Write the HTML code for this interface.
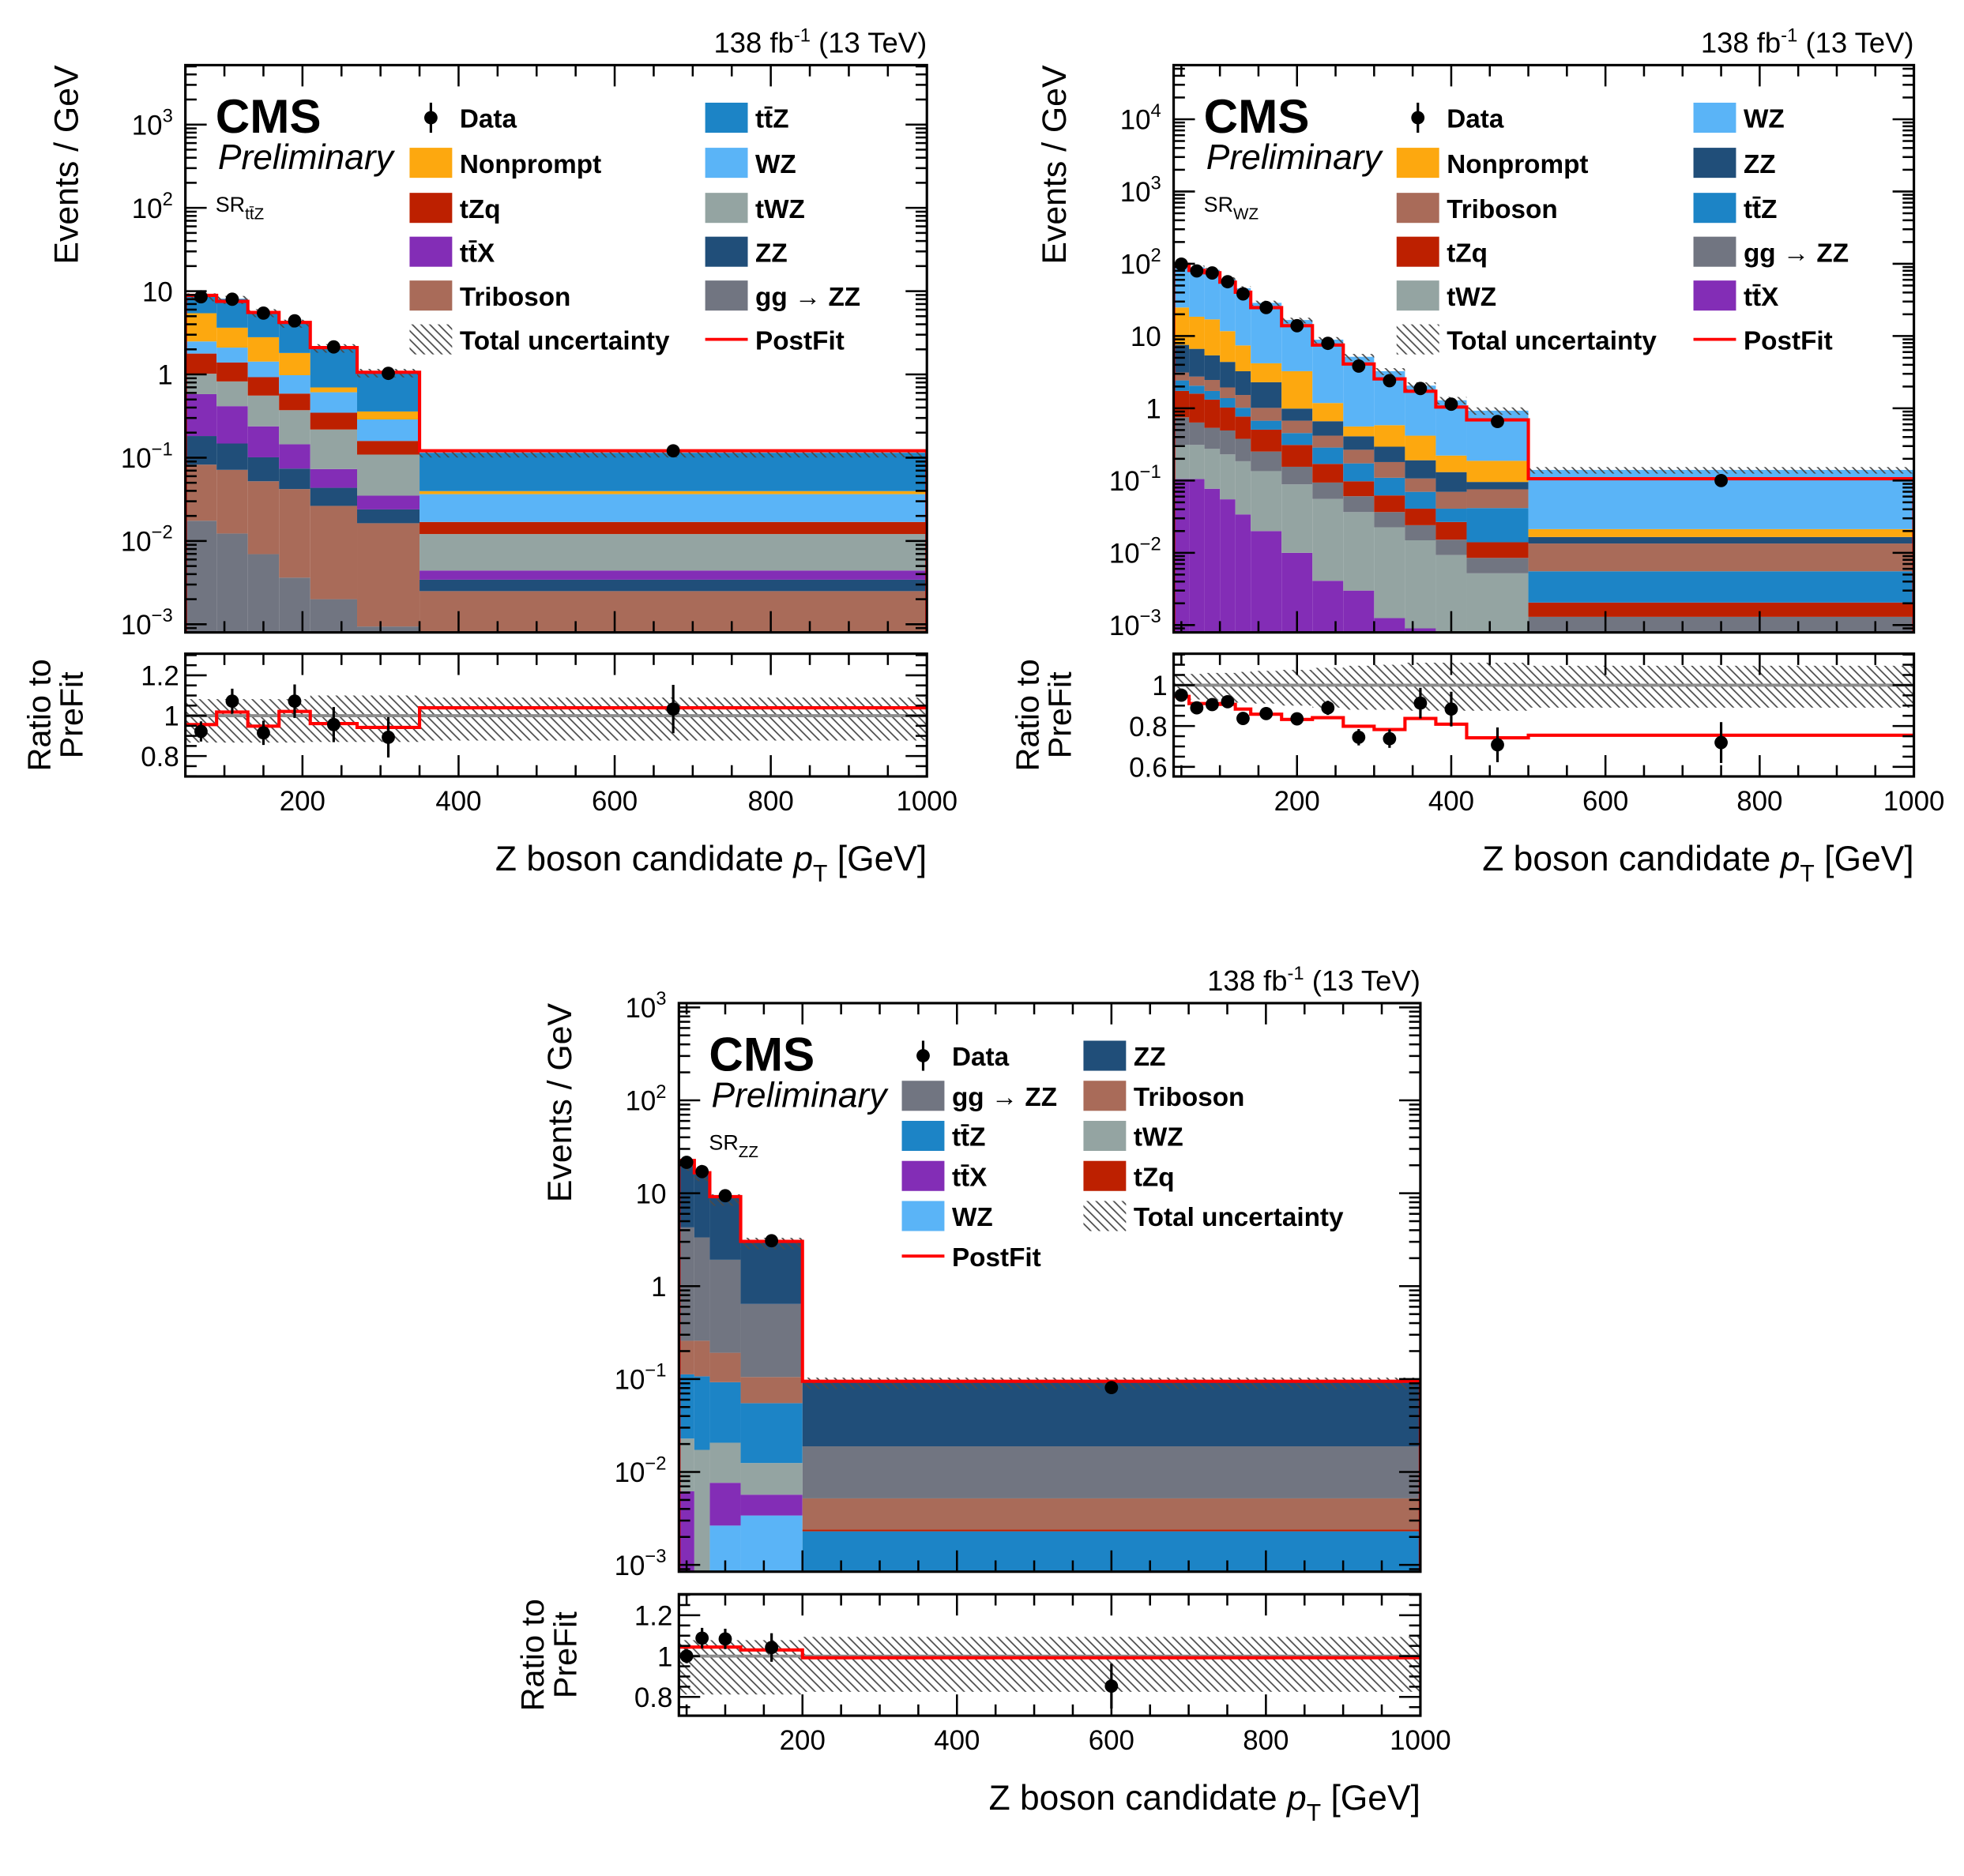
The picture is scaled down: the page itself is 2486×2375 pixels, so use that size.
<!DOCTYPE html>
<html><head><meta charset="utf-8"><style>
html,body{margin:0;padding:0;background:#fff;}
svg{display:block;font-family:"Liberation Sans",Arial,sans-serif;}
</style></head><body>
<svg id="fig" xmlns="http://www.w3.org/2000/svg" width="2486" height="2375" viewBox="0 0 1568 1498">
<defs>
<pattern id="hatch" patternUnits="userSpaceOnUse" width="7" height="7">
<path d="M-1,-1 L8,8 M-1,6 L1,8 M6,-1 L8,1" stroke="#4a4a4a" stroke-width="1.1"/>
</pattern>
</defs>
</svg>
<script>
// ---------- colours ----------
const C_TTZ='#1c84c6', C_WZ='#5ab4f7', C_NP='#fda80f', C_TZQ='#bd2000', C_TTX='#832db6',
      C_TRI='#a96b59', C_TWZ='#94a4a2', C_ZZ='#204e79', C_GG='#717581';

// ---------- Panel 1 : SR ttZ ----------
const p1Edges=[50,90,130,170,210,270,350,1000];
const p1GG=[0.0175,0.0123,0.00695,0.00363,0.0020,0.00094,0.0005];
const p1Tri=[0.0651,0.0592,0.0452,0.0384,0.0244,0.0154,0.0020];
const p1ZZ=[0.0994,0.0765,0.0489,0.0320,0.0171,0.0076,0.00093];
const p1TTX=[0.398,0.268,0.137,0.071,0.0295,0.0111,0.00099];
const p1TWZ=[0.44,0.408,0.319,0.227,0.145,0.074,0.0077];
const p1TZQ=[0.76,0.566,0.37,0.217,0.129,0.050,0.0048];
const p1WZ=[0.71,0.71,0.50,0.39,0.264,0.129,0.0196];
const p1NP=[2.94,1.54,1.37,0.83,0.087,0.071,0.0032];
const p1TTZ=[3.27,4.45,2.82,2.39,1.40,0.70,0.075];
const p1Data=[8.55,8.0,5.45,4.4,2.14,1.03,0.121];
const p1Post=[8.9,7.53,5.55,4.21,2.10,1.06,0.121];
const p1DataRatio=[0.922,1.072,0.915,1.072,0.956,0.893,1.033];
const p1DataRatioErr=[0.05,0.062,0.06,0.083,0.087,0.10,0.12];
const p1PostRatio=[0.956,1.018,0.948,1.021,0.961,0.942,1.039];
const p1UncUp=[0.082,0.082,0.082,0.082,0.10,0.10,0.09];
const p1UncDn=[0.133,0.133,0.133,0.133,0.13,0.13,0.123];
const p1YTicks=[-3,-2,-1,0,1,2,3];
const p1RTicks=[0.8,1,1.2];

// ---------- Panel 2 : SR WZ ----------
const p2Edges=[40,60,80,100,120,140,180,220,260,300,340,380,420,500,1000];
const p2TTX=[0.105,0.105,0.077,0.055,0.034,0.020,0.010,0.0041,0.0030,0.00125,0.0009,0.0003,0.0002,0.0001];
const p2TWZ=[0.206,0.206,0.197,0.175,0.151,0.115,0.0785,0.0516,0.0336,0.0213,0.0140,0.0090,0.0050,0.0003];
const p2GG=[0.44,0.324,0.263,0.263,0.193,0.117,0.0665,0.0381,0.0241,0.0141,0.0092,0.0059,0.0033,0.0009];
const p2TZQ=[0.99,0.96,0.78,0.53,0.39,0.254,0.156,0.0762,0.037,0.0256,0.0167,0.0115,0.0055,0.00075];
const p2TTZ=[0.69,0.46,0.42,0.36,0.25,0.167,0.143,0.116,0.075,0.047,0.029,0.0141,0.0276,0.0035];
const p2Tri=[0.70,0.69,0.73,0.56,0.51,0.34,0.219,0.132,0.094,0.071,0.037,0.029,0.034,0.0079];
const p2ZZ=[4.41,3.9,2.93,2.44,1.73,1.28,0.318,0.244,0.143,0.114,0.084,0.061,0.020,0.0031];
const p2NP=[17.3,11.85,11.6,7.3,4.15,1.9,2.27,0.52,0.150,0.289,0.227,0.091,0.092,0.0047];
const p2WZ=[79,71,65.4,49.7,38.4,24.6,13.4,7.73,4.6,2.68,1.64,1.07,0.74,0.119];
const p2Data=[98.9,79.6,74.6,56.4,38.3,24.8,13.9,7.92,3.84,2.41,1.88,1.14,0.656,0.10];
const p2Post=[98,81,75,55.6,40.4,24.7,13.9,7.5,4.1,2.55,1.72,1.04,0.69,0.106];
const p2DataRatio=[0.951,0.889,0.905,0.919,0.837,0.861,0.835,0.889,0.745,0.738,0.912,0.883,0.708,0.719];
const p2DataRatioErr=[0.02,0.02,0.02,0.02,0.025,0.025,0.03,0.035,0.04,0.045,0.075,0.085,0.085,0.1];
const p2PostRatio=[0.945,0.91,0.91,0.906,0.883,0.858,0.832,0.841,0.799,0.783,0.837,0.809,0.742,0.755];
const p2UncUp=[0.055,0.055,0.06,0.06,0.065,0.07,0.075,0.085,0.095,0.10,0.11,0.11,0.11,0.095];
const p2UncDn=[0.07,0.07,0.075,0.08,0.085,0.09,0.10,0.11,0.12,0.12,0.125,0.125,0.125,0.11];
const p2YTicks=[-3,-2,-1,0,1,2,3,4];
const p2RTicks=[0.6,0.8,1];

// ---------- Panel 3 : SR ZZ ----------
const p3Edges=[40,60,80,120,200,1000];
const p3WZ=[0.0001,0.0001,0.00265,0.0034,0.0001];
const p3TTX=[0.0061,0.0001,0.0050,0.0023,0.0001];
const p3TWZ=[0.0167,0.0171,0.013,0.0068,0.0001];
const p3TTZ=[0.0897,0.0897,0.0719,0.0425,0.0020];
const p3TZQ=[0.0005,0.0005,0.0003,0.0002,0.0001];
const p3Tri=[0.145,0.151,0.099,0.050,0.0028];
const p3GG=[4.03,3.09,1.73,0.538,0.0137];
const p3ZZ=[17.2,13.25,7.1,2.43,0.0758];
const p3Data=[21.5,17.1,9.4,3.08,0.081];
const p3Post=[22.5,16.6,9.2,3.03,0.0946];
const p3DataRatio=[1.0,1.088,1.084,1.042,0.853];
const p3DataRatioErr=[0.035,0.05,0.05,0.07,0.11];
const p3PostRatio=[1.044,1.044,1.044,1.03,0.992];
const p3UncUp=[0.078,0.078,0.078,0.078,0.094];
const p3UncDn=[0.188,0.188,0.188,0.188,0.175];
const p3YTicks=[-3,-2,-1,0,1,2,3];
const p3RTicks=[0.8,1,1.2];

const xTicks=[200,400,600,800,1000];

const NS='http://www.w3.org/2000/svg';
const svg=document.getElementById('fig');
function mk(tag,attrs,parent){const e=document.createElementNS(NS,tag);for(const k in attrs)e.setAttribute(k,attrs[k]);(parent||svg).appendChild(e);return e;}
function slug(s){return s.toLowerCase().replace(/[^a-z0-9]+/g,'-').replace(/^-|-$/g,'');}

function drawPanel(P){
  const g=mk('g',{});
  
  
  const xs=v=>P.x0+(v-P.xmin)/(P.xmax-P.xmin)*(P.x1-P.x0);
  const ys=v=>P.y1-(Math.log10(Math.max(v,1e-12))-P.lmin)/(P.lmax-P.lmin)*(P.y1-P.y0);
  const rs=v=>P.ry1-(v-P.rmin)/(P.rmax-P.rmin)*(P.ry1-P.ry0);
  const nb=P.edges.length-1;
  const cid='clip-'+P.id, rcid='rclip-'+P.id;
  const cp=mk('clipPath',{id:cid},g); mk('rect',{x:P.x0,y:P.y0,width:P.x1-P.x0,height:P.y1-P.y0},cp);
  const rcp=mk('clipPath',{id:rcid},g); mk('rect',{x:P.x0,y:P.ry0,width:P.x1-P.x0,height:P.ry1-P.ry0},rcp);
  const main=mk('g',{'clip-path':'url(#'+cid+')'},g);
  // stack
  const cum=new Array(nb).fill(0);
  P.procs.forEach(pr=>{
    for(let i=0;i<nb;i++){
      const lo=cum[i], hi=cum[i]+pr.vals[i];
      const yTop=ys(hi), yBot=lo>0?ys(lo):P.y1+5;
      const r=mk('rect',{x:xs(P.edges[i]),y:yTop,width:xs(P.edges[i+1])-xs(P.edges[i]),height:Math.max(0,yBot-yTop),fill:pr.color},main);
      
      
      cum[i]=hi;
    }
  });
  // hatch band main
  for(let i=0;i<nb;i++){
    const t=ys(cum[i]*(1+P.up[i])), b=ys(cum[i]*(1-P.dn[i]));
    const h=mk('rect',{x:xs(P.edges[i]),y:t,width:xs(P.edges[i+1])-xs(P.edges[i]),height:b-t,fill:'url(#hatch)'},main);
    
    
  }
  // postfit line main
  let d='';
  for(let i=0;i<nb;i++){
    const y=ys(P.post[i]);
    d+=(i===0?'M'+xs(P.edges[0])+','+(P.y1+5)+' L':' L')+xs(P.edges[i])+','+y+' L'+xs(P.edges[i+1])+','+y;
  }
  d+=' L'+xs(P.edges[nb])+','+(P.y1+5);
  const pl=mk('path',{d:d,fill:'none',stroke:'#ff0000','stroke-width':2.6},main);
  
  
  // data main
  for(let i=0;i<nb;i++){
    const cx=xs((P.edges[i]+P.edges[i+1])/2), cy=ys(P.data[i]);
    const e=P.data[i]*P.dErr[i];
    const el=mk('line',{x1:cx,x2:cx,y1:ys(P.data[i]+e),y2:ys(Math.max(P.data[i]-e,1e-9)),stroke:'#000','stroke-width':2},main);
    
    
    const c=mk('circle',{cx:cx,cy:cy,r:5.3,fill:'#000'},main);
    
    
  }
  // ratio panel
  const rg=mk('g',{'clip-path':'url(#'+rcid+')'},g);
  for(let i=0;i<nb;i++){
    const h=mk('rect',{x:xs(P.edges[i]),y:rs(1+P.up[i]),width:xs(P.edges[i+1])-xs(P.edges[i]),height:rs(1-P.dn[i])-rs(1+P.up[i]),fill:'url(#hatch)'},rg);
    
    
  }
  const one=mk('line',{x1:P.x0,x2:P.x1,y1:rs(1),y2:rs(1),stroke:'#8c8c8c','stroke-width':2.4},rg);
  
  
  let rd='';
  for(let i=0;i<nb;i++){
    const y=rs(P.pRatio[i]);
    rd+=(i===0?'M':' L')+xs(P.edges[i])+','+y+' L'+xs(P.edges[i+1])+','+y;
  }
  const rl=mk('path',{d:rd,fill:'none',stroke:'#ff0000','stroke-width':2.6},rg);
  
  
  for(let i=0;i<nb;i++){
    const cx=xs((P.edges[i]+P.edges[i+1])/2);
    const el=mk('line',{x1:cx,x2:cx,y1:rs(P.dRatio[i]+P.dErr[i]),y2:rs(P.dRatio[i]-P.dErr[i]),stroke:'#000','stroke-width':2},rg);
    
    
    const c=mk('circle',{cx:cx,cy:rs(P.dRatio[i]),r:5.3,fill:'#000'},rg);
    
    
  }
  // frames
  [[P.y0,P.y1,'main-frame'],[P.ry0,P.ry1,'ratio-frame']].forEach(f=>{
    const r=mk('rect',{x:P.x0,y:f[0],width:P.x1-P.x0,height:f[1]-f[0],fill:'none',stroke:'#000','stroke-width':2},g);
    
    
  });
  // ticks
  const tk=mk('g',{stroke:'#000','stroke-width':1.6},g);
  
  
  for(let v=Math.ceil(P.xmin/50)*50; v<=P.xmax; v+=50){
    const x=xs(v), L=(v%200===0)?17:9;
    [[P.y1,-1],[P.y0,1],[P.ry1,-1],[P.ry0,1]].forEach(s=>mk('line',{x1:x,x2:x,y1:s[0],y2:s[0]+s[1]*L},tk));
  }
  for(let e=Math.floor(P.lmin); e<=Math.ceil(P.lmax); e++){
    for(let m=1;m<10;m++){
      const lv=e+Math.log10(m); if(lv<P.lmin||lv>P.lmax) continue;
      const y=ys(Math.pow(10,lv)), L=m===1?17:9;
      mk('line',{x1:P.x0,x2:P.x0+L,y1:y,y2:y},tk); mk('line',{x1:P.x1,x2:P.x1-L,y1:y,y2:y},tk);
    }
  }
  for(let k=Math.ceil(P.rmin/0.05-1e-6); k*0.05<=P.rmax+1e-9; k++){
    const v=k*0.05, y=rs(v), L=(Math.abs(v*5-Math.round(v*5))<1e-6)?17:9;
    mk('line',{x1:P.x0,x2:P.x0+L,y1:y,y2:y},tk); mk('line',{x1:P.x1,x2:P.x1-L,y1:y,y2:y},tk);
  }
  // tick labels
  xTicks.forEach(v=>{
    const t=mk('text',{x:xs(v),y:P.ry1+27,'font-size':22,'text-anchor':'middle'},g); t.textContent=v;
    
    
  });
  P.yTicks.forEach(e=>{
    const t=mk('text',{x:P.x0-10,y:ys(Math.pow(10,e))+8,'font-size':22,'text-anchor':'end'},g);
    
    
    if(e===0) t.textContent='1'; else if(e===1) t.textContent='10';
    else { t.textContent='10'; const s=mk('tspan',{dy:-10,'font-size':15},t); s.textContent=String(e).replace('-','\u2212'); }
  });
  P.rTicks.forEach(v=>{
    const t=mk('text',{x:P.x0-5,y:rs(v)+8,'font-size':22,'text-anchor':'end'},g);
    t.textContent=(v===1?'1':String(v));
    
    
  });
  // axis titles
  const yt=mk('text',{x:P.x0-86,y:P.y0,'font-size':27,'text-anchor':'end',transform:'rotate(-90 '+(P.x0-86)+' '+P.y0+')'},g);
  yt.textContent='Events / GeV';
  
  
  const rm=(P.ry0+P.ry1)/2;
  const r1=mk('text',{x:P.x0-108,y:rm,'font-size':26,'text-anchor':'middle',transform:'rotate(-90 '+(P.x0-108)+' '+rm+')'},g);
  r1.textContent='Ratio to';
  
  
  const r2=mk('text',{x:P.x0-82,y:rm,'font-size':26,'text-anchor':'middle',transform:'rotate(-90 '+(P.x0-82)+' '+rm+')'},g);
  r2.textContent='PreFit';
  
  
  const xt=mk('text',{x:P.x1,y:P.ry1+75,'font-size':28,'text-anchor':'end'},g);
  
  
  xt.appendChild(document.createTextNode('Z boson candidate '));
  const pt=mk('tspan',{'font-style':'italic'},xt); pt.textContent='p';
  const ts=mk('tspan',{dy:9,'font-size':19},xt); ts.textContent='T';
  const gv=mk('tspan',{dy:-9},xt); gv.textContent=' [GeV]';
  // lumi
  const lu=mk('text',{x:P.x1,y:P.y0-10,'font-size':23,'text-anchor':'end'},g);
  
  
  lu.appendChild(document.createTextNode('138 fb'));
  const l1=mk('tspan',{dy:-9,'font-size':15},lu); l1.textContent='-1';
  const l2=mk('tspan',{dy:9},lu); l2.textContent=' (13 TeV)';
  // CMS labels
  const cms=mk('text',{x:P.x0+24,y:P.y0+54,'font-size':38,'font-weight':'bold'},g); cms.textContent='CMS';
  
  
  const pre=mk('text',{x:P.x0+26,y:P.y0+83,'font-size':28,'font-style':'italic'},g); pre.textContent='Preliminary';
  
  
  const sr=mk('text',{x:P.x0+24,y:P.y0+117,'font-size':17},g);
  
  
  sr.appendChild(document.createTextNode('SR'));
  const ss=mk('tspan',{dy:6,'font-size':13},sr); ss.textContent=P.sr;
  // legend
  P.legend.forEach(L=>{
    const lg=mk('g',{},g);
    
    
    const bx=L.x, cy=L.y;
    if(L.kind==='box') mk('rect',{x:bx,y:cy-12,width:34,height:24,fill:L.color},lg);
    else if(L.kind==='hatch') mk('rect',{x:bx,y:cy-12,width:34,height:24,fill:'url(#hatch)'},lg);
    else if(L.kind==='line') mk('line',{x1:bx,x2:bx+34,y1:cy,y2:cy,stroke:'#ff0000','stroke-width':2.4},lg);
    else { mk('line',{x1:bx+17,x2:bx+17,y1:cy-12,y2:cy+12,stroke:'#000','stroke-width':2},lg); mk('circle',{cx:bx+17,cy:cy,r:5.3,fill:'#000'},lg); }
    const t=mk('text',{x:bx+40,y:cy+8,'font-size':21,'font-weight':'bold'},lg); t.textContent=L.label;
  });
}

const TT='tt\u0304';
drawPanel({id:'sr-ttz-plot',x0:148,x1:740,y0:52,y1:505,ry0:522,ry1:620,xmin:50,xmax:1000,
  lmin:-3.098,lmax:3.714,rmin:0.699,rmax:1.307,sr:'t'+'t\u0304Z',edges:p1Edges,
  procs:[{name:'gg to ZZ',color:C_GG,vals:p1GG},{name:'Triboson',color:C_TRI,vals:p1Tri},{name:'ZZ',color:C_ZZ,vals:p1ZZ},
    {name:'ttX',color:C_TTX,vals:p1TTX},{name:'tWZ',color:C_TWZ,vals:p1TWZ},{name:'tZq',color:C_TZQ,vals:p1TZQ},
    {name:'WZ',color:C_WZ,vals:p1WZ},{name:'Nonprompt',color:C_NP,vals:p1NP},{name:'ttZ',color:C_TTZ,vals:p1TTZ}],
  data:p1Data,post:p1Post,dRatio:p1DataRatio,dErr:p1DataRatioErr,pRatio:p1PostRatio,up:p1UncUp,dn:p1UncDn,
  yTicks:p1YTicks,rTicks:p1RTicks,
  legend:[{x:327,y:94,kind:'data',label:'Data'},{x:327,y:130,kind:'box',color:C_NP,label:'Nonprompt'},
    {x:327,y:166,kind:'box',color:C_TZQ,label:'tZq'},{x:327,y:201,kind:'box',color:C_TTX,label:TT+'X'},
    {x:327,y:236,kind:'box',color:C_TRI,label:'Triboson'},{x:327,y:271,kind:'hatch',label:'Total uncertainty'},
    {x:563,y:94,kind:'box',color:C_TTZ,label:TT+'Z'},{x:563,y:130,kind:'box',color:C_WZ,label:'WZ'},
    {x:563,y:166,kind:'box',color:C_TWZ,label:'tWZ'},{x:563,y:201,kind:'box',color:C_ZZ,label:'ZZ'},
    {x:563,y:236,kind:'box',color:C_GG,label:'gg \u2192 ZZ'},{x:563,y:271,kind:'line',label:'PostFit'}]});

drawPanel({id:'sr-wz-plot',x0:937,x1:1528,y0:52,y1:505,ry0:522,ry1:620,xmin:40,xmax:1000,
  lmin:-3.102,lmax:4.749,rmin:0.553,rmax:1.154,sr:'WZ',edges:p2Edges,
  procs:[{name:'ttX',color:C_TTX,vals:p2TTX},{name:'tWZ',color:C_TWZ,vals:p2TWZ},{name:'gg to ZZ',color:C_GG,vals:p2GG},
    {name:'tZq',color:C_TZQ,vals:p2TZQ},{name:'ttZ',color:C_TTZ,vals:p2TTZ},{name:'Triboson',color:C_TRI,vals:p2Tri},
    {name:'ZZ',color:C_ZZ,vals:p2ZZ},{name:'Nonprompt',color:C_NP,vals:p2NP},{name:'WZ',color:C_WZ,vals:p2WZ}],
  data:p2Data,post:p2Post,dRatio:p2DataRatio,dErr:p2DataRatioErr,pRatio:p2PostRatio,up:p2UncUp,dn:p2UncDn,
  yTicks:p2YTicks,rTicks:p2RTicks,
  legend:[{x:1115,y:94,kind:'data',label:'Data'},{x:1115,y:130,kind:'box',color:C_NP,label:'Nonprompt'},
    {x:1115,y:166,kind:'box',color:C_TRI,label:'Triboson'},{x:1115,y:201,kind:'box',color:C_TZQ,label:'tZq'},
    {x:1115,y:236,kind:'box',color:C_TWZ,label:'tWZ'},{x:1115,y:271,kind:'hatch',label:'Total uncertainty'},
    {x:1352,y:94,kind:'box',color:C_WZ,label:'WZ'},{x:1352,y:130,kind:'box',color:C_ZZ,label:'ZZ'},
    {x:1352,y:166,kind:'box',color:C_TTZ,label:TT+'Z'},{x:1352,y:201,kind:'box',color:C_GG,label:'gg \u2192 ZZ'},
    {x:1352,y:236,kind:'box',color:C_TTX,label:TT+'X'},{x:1352,y:271,kind:'line',label:'PostFit'}]});

drawPanel({id:'sr-zz-plot',x0:542,x1:1134,y0:801,y1:1255,ry0:1273,ry1:1370,xmin:40,xmax:1000,
  lmin:-3.073,lmax:3.046,rmin:0.708,rmax:1.303,sr:'ZZ',edges:p3Edges,
  procs:[{name:'WZ',color:C_WZ,vals:p3WZ},{name:'ttX',color:C_TTX,vals:p3TTX},{name:'tWZ',color:C_TWZ,vals:p3TWZ},
    {name:'ttZ',color:C_TTZ,vals:p3TTZ},{name:'tZq',color:C_TZQ,vals:p3TZQ},{name:'Triboson',color:C_TRI,vals:p3Tri},
    {name:'gg to ZZ',color:C_GG,vals:p3GG},{name:'ZZ',color:C_ZZ,vals:p3ZZ}],
  data:p3Data,post:p3Post,dRatio:p3DataRatio,dErr:p3DataRatioErr,pRatio:p3PostRatio,up:p3UncUp,dn:p3UncDn,
  yTicks:p3YTicks,rTicks:p3RTicks,
  legend:[{x:720,y:843,kind:'data',label:'Data'},{x:720,y:875,kind:'box',color:C_GG,label:'gg \u2192 ZZ'},
    {x:720,y:907,kind:'box',color:C_TTZ,label:TT+'Z'},{x:720,y:939,kind:'box',color:C_TTX,label:TT+'X'},
    {x:720,y:971,kind:'box',color:C_WZ,label:'WZ'},{x:720,y:1003,kind:'line',label:'PostFit'},
    {x:865,y:843,kind:'box',color:C_ZZ,label:'ZZ'},{x:865,y:875,kind:'box',color:C_TRI,label:'Triboson'},
    {x:865,y:907,kind:'box',color:C_TWZ,label:'tWZ'},{x:865,y:939,kind:'box',color:C_TZQ,label:'tZq'},
    {x:865,y:971,kind:'hatch',label:'Total uncertainty'}]});
</script>
</body></html>
